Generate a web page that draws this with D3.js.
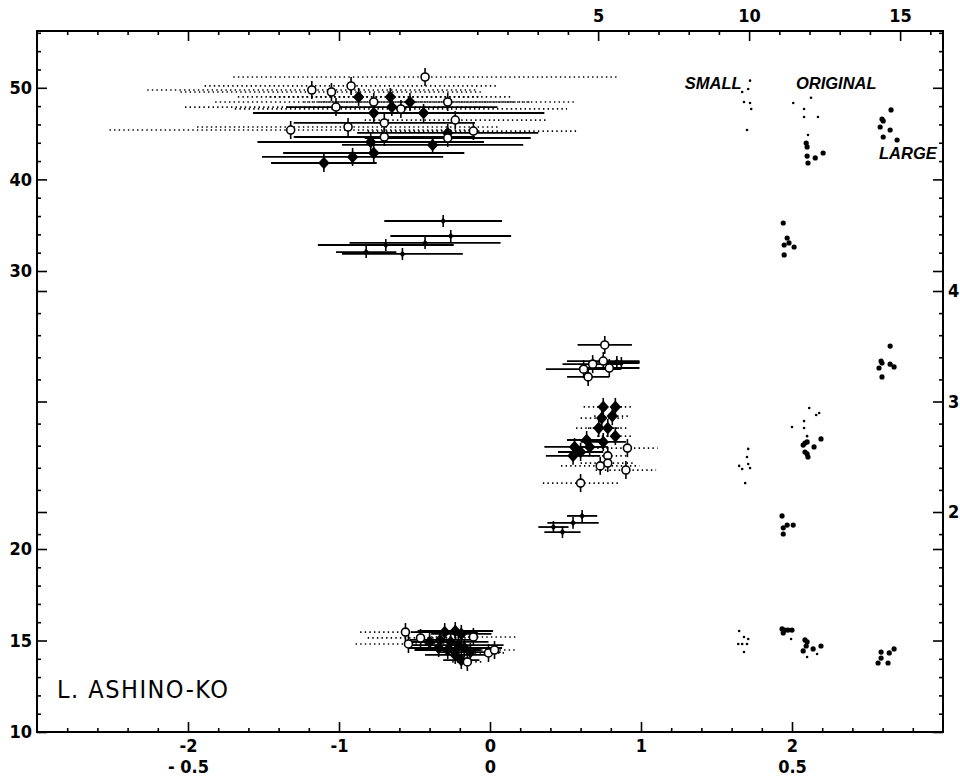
<!DOCTYPE html>
<html>
<head>
<meta charset="utf-8">
<script src="https://cdn.jsdelivr.net/npm/d3@7"></script>
<style>
  body { margin: 0; background: #fff; }
  svg { display: block; }
</style>
</head>
<body>
<div id="chart"></div>
<script>
// ---- data ----
// left panel: [x (lower scale), y (left scale), half error in x]
var openDotted = [
	[-0.43,51.18,1.27],[-1.18,49.76,1.09],[-1.05,49.54,1.0],[-0.92,50.20,0.97],[-0.77,48.45,1.05],
	[-0.59,47.69,1.1],[-0.28,48.45,0.85],[-1.02,47.90,1.0],[-1.32,45.39,1.2],[-0.94,45.72,1.0],
	[-0.23,46.48,0.6],[-0.11,45.28,0.7],
	[0.91,23.63,0.2],[0.78,23.35,0.13],[0.78,23.09,0.18],[0.73,22.99,0.26],[0.90,22.84,0.2],[0.60,22.37,0.25],
	[-0.56,15.46,0.3],[-0.46,15.14,0.35],[-0.54,14.81,0.35],[-0.11,15.19,0.28],[-0.01,14.32,0.12],
	[0.03,14.48,0.15],[-0.15,13.83,0.1]
]
var openSolid = [
	[-0.70,46.16,0.6],[-0.70,44.63,0.6],[-0.28,44.52,0.55],
	[0.76,27.34,0.18],[0.75,26.76,0.24],[0.68,26.65,0.2],[0.62,26.47,0.25],[0.65,26.19,0.14],[0.79,26.51,0.2]
]
var filledDotted = [
	[-0.87,49.00,0.8],[-0.66,49.00,0.8],[-0.53,48.45,0.7],
	[0.75,25.11,0.13],[0.83,25.11,0.12],[0.74,24.71,0.14],[0.81,24.78,0.12],[0.72,24.35,0.15],
	[0.78,24.35,0.13],[0.83,24.06,0.12]
]
var filledSolid = [
	[-0.77,47.25,0.8],[-0.65,47.90,0.7],[-0.44,47.25,0.8],[-0.28,45.07,0.6],[-0.79,44.08,0.75],
	[-0.38,43.76,0.6],[-0.77,42.88,0.6],[-0.91,42.45,0.6],[-1.10,41.79,0.35],
	[0.64,23.92,0.13],[0.75,23.85,0.15],[0.56,23.67,0.2],[0.66,23.67,0.12],[0.55,23.35,0.18],[0.60,23.49,0.15],
	[-0.30,15.46,0.22],[-0.23,15.52,0.25],[-0.19,15.36,0.2],[-0.33,15.03,0.2],[-0.26,14.92,0.25],
	[-0.21,14.75,0.3],[-0.34,14.59,0.2],[-0.28,14.48,0.22],[-0.17,14.59,0.25],[-0.23,14.21,0.2],
	[-0.13,14.37,0.2],[-0.19,13.93,0.12],[-0.40,14.92,0.15]
]
var filledSmall = [
	[-0.31,35.46,0.39],[-0.26,33.82,0.4],[-0.43,33.06,0.5],[-0.69,32.84,0.45],[-0.58,31.86,0.4],[-0.82,32.07,0.2],
	[0.84,26.73,0.15],[0.87,26.69,0.12],
	[0.61,21.19,0.1],[0.55,20.94,0.17],[0.48,20.61,0.12],[0.42,20.79,0.1]
]

// right panel: [x (upper scale), y (left scale)]
var smallDots = [
	[10.03,50.78],[9.97,49.87],[9.77,49.54],[9.83,48.45],[10.03,48.34],[10.07,47.69],[9.93,45.39],
	[12.05,48.92],[11.46,48.34],[11.82,47.69],[11.82,46.81],[12.28,46.81],[11.95,44.85],
	[11.99,25.07],[12.22,24.82],[12.32,24.89],[11.82,24.60],[11.42,24.39],[11.82,24.35],[11.92,24.06],
	[9.97,23.60],[9.93,23.31],[9.67,22.99],[9.77,22.88],[9.97,23.06],[10.03,22.91],[9.87,22.37],
	[9.67,15.52],[9.83,15.19],[9.97,15.08],[9.64,14.81],[9.77,14.81],[9.93,14.81],[9.83,14.37],
	[11.39,15.08],[11.92,14.10],[12.25,14.26]
]
var largeDots = [
	[11.89,43.97],[11.92,43.54],[11.92,42.55],[12.19,42.34],[12.45,42.88],[11.95,41.79],
	[14.70,47.58],[14.40,46.59],[14.44,46.38],[14.34,45.72],[14.67,45.39],[14.44,44.63],[14.90,44.30],
	[11.13,35.24],[11.26,33.60],[11.16,32.84],[11.32,33.06],[11.49,32.62],[11.16,31.75],
	[14.67,27.30],[14.37,26.76],[14.40,26.69],[14.30,26.51],[14.67,26.65],[14.80,26.55],[14.40,26.19],
	[11.85,23.81],[11.92,23.85],[11.79,23.74],[12.15,23.67],[12.38,23.96],[11.85,23.49],[11.92,23.42],[11.95,23.31],
	[11.09,21.19],[11.13,20.76],[11.13,20.54],[11.26,20.86],[11.46,20.86],
	[11.09,15.63],[11.19,15.57],[11.29,15.57],[11.42,15.57],[11.13,15.41],
	[11.85,15.03],[11.92,14.92],[11.89,14.70],[11.79,14.43],[12.12,14.54],[12.38,14.70],
	[14.37,14.37],[14.64,14.32],[14.80,14.54],[14.37,14.04],[14.27,13.77],[14.60,13.77]
]

// ticks / labels
var leftLabels = [10,15,20,30,40,50]
var rightLabels = [2,3,4]
var bottomLabels = [-2,-1,0,1,2]
var bottomLabels2 = [-0.5,0,0.5]
var topLabels = [5,10,15]
var panelLabels = [["SMALL",9.75,49.9],["ORIGINAL",11.55,49.9],["LARGE",14.3,42.2]]
var siteName = "L. ASHINO-KO"

var width = 960, height = 778
var frame = {left: 37, right: 943, top: 31, bottom: 732}

var svg = d3.select("#chart").append("svg")
	.attr("width", width)
	.attr("height", height)

// lower x scale and its second labelling, upper x scale
var xScale = d3.scaleLinear().domain([-3,3]).range([frame.left, frame.right])
var xScale2 = d3.scaleLinear().domain([-0.75,0.75]).range([frame.left, frame.right])
var xTop = d3.scaleLinear().domain([-13.58,16.42]).range([frame.left, frame.right])

// left axis is piecewise, right axis is linear over the middle part
var yScale = d3.scaleLinear().domain([10,20,30,56.2]).range([frame.bottom,549,271,frame.top])
var yRight = d3.scaleLinear().domain([2,4]).range([512,291])

var tickFont = "'Liberation Sans Narrow','DejaVu Sans Condensed',sans-serif"

function styleAxis(g){
	g.select(".domain").remove()
	g.selectAll(".tick line").attr("stroke","#000").attr("stroke-width",1.6)
	g.selectAll(".tick text")
		.attr("font-family",tickFont)
		.attr("font-weight","bold")
		.attr("font-size","18px")
		.attr("fill","#000")
}

var leftMinor = d3.range(11,20).filter(function(d){ return d != 15 })
	.concat(d3.range(32,57,2).filter(function(d){ return d != 40 && d != 50 }))
var midMinor = d3.range(18,41,2).map(function(d){ return d/10 }).filter(function(d){ return d % 1 != 0 })

// left side
svg.append("g").attr("transform","translate("+frame.left+",0)")
	.call(d3.axisLeft(yScale).tickValues(leftLabels).tickSize(-10).tickPadding(5).tickFormat(d3.format("d")))
	.call(styleAxis)
svg.append("g").attr("transform","translate("+frame.left+",0)")
	.call(d3.axisLeft(yScale).tickValues(leftMinor).tickSize(-4).tickFormat(""))
	.call(styleAxis)
svg.append("g").attr("transform","translate("+frame.left+",0)")
	.call(d3.axisLeft(yRight).tickValues(rightLabels).tickSize(-10).tickFormat(""))
	.call(styleAxis)
svg.append("g").attr("transform","translate("+frame.left+",0)")
	.call(d3.axisLeft(yRight).tickValues(midMinor).tickSize(-4).tickFormat(""))
	.call(styleAxis)

// right side
svg.append("g").attr("transform","translate("+frame.right+",0)")
	.call(d3.axisRight(yScale).tickValues(leftLabels).tickSize(-10).tickFormat(""))
	.call(styleAxis)
svg.append("g").attr("transform","translate("+frame.right+",0)")
	.call(d3.axisRight(yScale).tickValues(leftMinor).tickSize(-4).tickFormat(""))
	.call(styleAxis)
svg.append("g").attr("transform","translate("+frame.right+",0)")
	.call(d3.axisRight(yRight).tickValues(rightLabels).tickSize(-10).tickPadding(5).tickFormat(d3.format("d")))
	.call(styleAxis)
svg.append("g").attr("transform","translate("+frame.right+",0)")
	.call(d3.axisRight(yRight).tickValues(midMinor).tickSize(-4).tickFormat(""))
	.call(styleAxis)

// bottom
var bottomMinor = d3.range(-28,29,2).map(function(d){ return d/10 }).filter(function(d){ return d % 1 != 0 })
svg.append("g").attr("transform","translate(0,"+frame.bottom+")")
	.call(d3.axisBottom(xScale).tickValues(bottomLabels).tickSize(-10).tickPadding(7)
		.tickFormat(function(d){ return d < 0 ? "-" + Math.abs(d) : d }))
	.call(styleAxis)
svg.append("g").attr("transform","translate(0,"+frame.bottom+")")
	.call(d3.axisBottom(xScale).tickValues(bottomMinor).tickSize(-4).tickFormat(""))
	.call(styleAxis)
svg.append("g").attr("transform","translate(0,"+frame.bottom+")")
	.call(d3.axisBottom(xScale2).tickValues(bottomLabels2).tickSize(0).tickPadding(28)
		.tickFormat(function(d){ return d < 0 ? "- " + Math.abs(d) : d }))
	.call(styleAxis)

// top
svg.append("g").attr("transform","translate(0,"+frame.top+")")
	.call(d3.axisTop(xScale).tickValues([-2,-1]).tickSize(-10).tickFormat(""))
	.call(styleAxis)
svg.append("g").attr("transform","translate(0,"+frame.top+")")
	.call(d3.axisTop(xScale).tickValues(bottomMinor.filter(function(d){ return d < -0.5 })).tickSize(-4).tickFormat(""))
	.call(styleAxis)
svg.append("g").attr("transform","translate(0,"+frame.top+")")
	.call(d3.axisTop(xTop).tickValues(topLabels).tickSize(-10).tickPadding(9).tickFormat(d3.format("d")))
	.call(styleAxis)
svg.append("g").attr("transform","translate(0,"+frame.top+")")
	.call(d3.axisTop(xTop).tickValues(d3.range(0,17).filter(function(d){ return d % 5 != 0 })).tickSize(-4).tickFormat(""))
	.call(styleAxis)

// frame
svg.append("rect")
	.attr("x",frame.left).attr("y",frame.top)
	.attr("width",frame.right-frame.left).attr("height",frame.bottom-frame.top)
	.attr("fill","none").attr("stroke","#000").attr("stroke-width",2)

// error bars
function drawBars(data, dotted, cls){
	svg.selectAll("."+cls).data(data).enter().append("line")
		.attr("class",cls)
		.attr("x1",function(d){ return xScale(d[0]-d[2]) })
		.attr("x2",function(d){ return xScale(d[0]+d[2]) })
		.attr("y1",function(d){ return yScale(d[1]) })
		.attr("y2",function(d){ return yScale(d[1]) })
		.attr("stroke","#000")
		.attr("stroke-width",dotted ? 1.7 : 1.8)
		.attr("stroke-dasharray",dotted ? "1.4,3.2" : null)
}
drawBars(openDotted,true,"bar_od")
drawBars(filledDotted,true,"bar_fd")
drawBars(openSolid,false,"bar_os")
drawBars(filledSolid,false,"bar_fs")
drawBars(filledSmall,false,"bar_sm")

// vertical ticks through the markers
function drawStems(data, half, cls){
	svg.selectAll("."+cls).data(data).enter().append("line")
		.attr("class",cls)
		.attr("x1",function(d){ return xScale(d[0]) })
		.attr("x2",function(d){ return xScale(d[0]) })
		.attr("y1",function(d){ return yScale(d[1]) - half })
		.attr("y2",function(d){ return yScale(d[1]) + half })
		.attr("stroke","#000")
		.attr("stroke-width",1.6)
}
drawStems(openDotted.concat(openSolid),9,"stem_o")
drawStems(filledDotted.concat(filledSolid),9,"stem_f")
drawStems(filledSmall,6,"stem_s")

// near-square diamond
var rhomb = {
	draw: function(ctx, size){
		var r = Math.sqrt(size/2)
		ctx.moveTo(0,-r*1.1)
		ctx.lineTo(r,0)
		ctx.lineTo(0,r*1.1)
		ctx.lineTo(-r,0)
		ctx.closePath()
	}
}
var diamond = d3.symbol().type(rhomb).size(66)
var smallDiamond = d3.symbol().type(rhomb).size(18)

svg.selectAll(".mk_f").data(filledDotted.concat(filledSolid)).enter().append("path")
	.attr("class","mk_f")
	.attr("d",diamond)
	.attr("transform",function(d){ return "translate("+xScale(d[0])+","+yScale(d[1])+")" })
	.attr("fill","#000")

svg.selectAll(".mk_s").data(filledSmall).enter().append("path")
	.attr("class","mk_s")
	.attr("d",smallDiamond)
	.attr("transform",function(d){ return "translate("+xScale(d[0])+","+yScale(d[1])+")" })
	.attr("fill","#000")

svg.selectAll(".mk_o").data(openDotted.concat(openSolid)).enter().append("circle")
	.attr("class","mk_o")
	.attr("cx",function(d){ return xScale(d[0]) })
	.attr("cy",function(d){ return yScale(d[1]) })
	.attr("r",4)
	.attr("fill","#fff")
	.attr("stroke","#000")
	.attr("stroke-width",1.6)

// right panel dots
svg.selectAll(".dot_s").data(smallDots).enter().append("circle")
	.attr("class","dot_s")
	.attr("cx",function(d){ return xTop(d[0]) })
	.attr("cy",function(d){ return yScale(d[1]) })
	.attr("r",1.3)
	.attr("fill","#000")

svg.selectAll(".dot_l").data(largeDots).enter().append("circle")
	.attr("class","dot_l")
	.attr("cx",function(d){ return xTop(d[0]) })
	.attr("cy",function(d){ return yScale(d[1]) })
	.attr("r",2.6)
	.attr("fill","#000")

// labels
svg.selectAll(".panel_label").data(panelLabels).enter().append("text")
	.attr("class","panel_label")
	.attr("x",function(d){ return xTop(d[1]) })
	.attr("y",function(d){ return yScale(d[2]) })
	.attr("text-anchor",function(d){ return d[0] == "SMALL" ? "end" : "start" })
	.attr("font-family","'Liberation Sans','DejaVu Sans',sans-serif")
	.attr("font-weight","bold")
	.attr("font-style","italic")
	.attr("font-size","16.5px")
	.text(function(d){ return d[0] })

svg.append("text")
	.attr("x",57)
	.attr("y",698)
	.attr("font-family","'Liberation Sans Narrow','DejaVu Sans Condensed',sans-serif")
	.attr("font-size","25px")
	.attr("letter-spacing","1.5px")
	.attr("fill","#000")
	.text(siteName)
</script>
</body>
</html>
